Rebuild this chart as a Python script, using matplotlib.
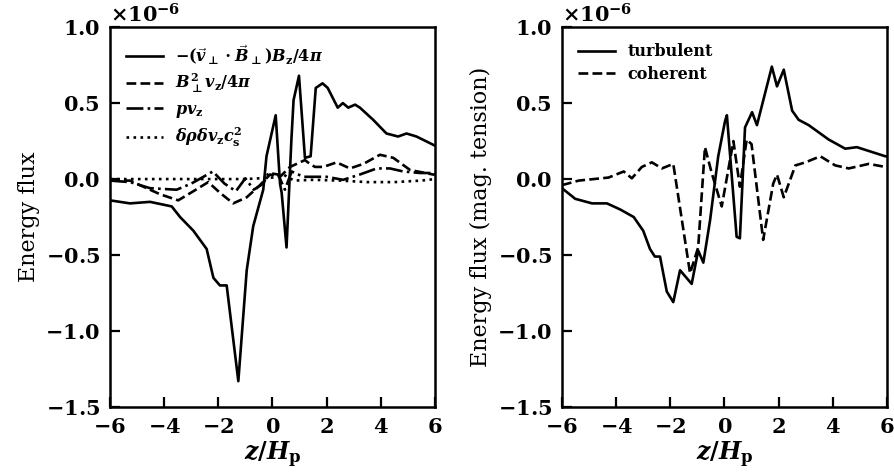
import numpy as np
import matplotlib
matplotlib.use("Agg")
import matplotlib.pyplot as plt

plt.rcParams["font.family"] = "DejaVu Serif"
plt.rcParams["font.weight"] = "bold"
plt.rcParams["mathtext.fontset"] = "custom"
plt.rcParams["mathtext.rm"] = "DejaVu Serif:bold"
plt.rcParams["mathtext.it"] = "DejaVu Serif:italic:bold"
plt.rcParams["mathtext.bf"] = "DejaVu Serif:bold"
plt.rcParams["mathtext.sf"] = "DejaVu Sans:bold"
plt.rcParams["axes.formatter.use_mathtext"] = True

# flux profiles, in units of 1e-6
z_tens = [-6.0, -5.26, -4.52, -3.72, -3.41, -2.92, -2.43, -2.18, -1.94, -1.69, -1.26,
          -0.95, -0.71, -0.34, -0.22, 0.12, 0.28, 0.34, 0.52, 0.7, 0.78, 0.98, 1.2, 1.41,
          1.6, 1.85, 2.04, 2.41, 2.6, 2.8, 3.05, 3.23, 3.72, 4.21, 4.64, 4.95, 5.32, 6.0]
f_tens = [-0.14, -0.16, -0.15, -0.18, -0.25, -0.34, -0.46, -0.65, -0.70, -0.70, -1.33,
          -0.60, -0.31, -0.07, 0.15, 0.42, -0.03, -0.09, -0.45, 0.26, 0.52, 0.68, 0.14, 0.15,
          0.60, 0.63, 0.60, 0.47, 0.50, 0.47, 0.49, 0.47, 0.39, 0.30, 0.28, 0.30, 0.28, 0.22]

z_press = [-6.0, -5.26, -4.77, -4.15, -3.48, -2.92, -2.37, -1.94, -1.45, -0.95, -0.46,
           -0.09, 0.28, 0.65, 1.2, 1.38, 1.57, 1.88, 2.37, 2.86, 3.36, 3.97, 4.46, 5.08, 5.93, 6.0]
f_press = [-0.01, -0.01, -0.05, -0.10, -0.14, -0.08, -0.02, -0.09, -0.16, -0.12, -0.04,
           0.03, 0.015, 0.08, 0.125, 0.10, 0.08, 0.08, 0.11, 0.07, 0.10, 0.16, 0.14, 0.06, 0.03, 0.03]

z_gas = [-6.0, -5.26, -4.52, -3.54, -3.0, -2.2, -1.77, -1.35, -1.0, -0.69, -0.34, -0.15,
         0.21, 0.46, 0.71, 1.14, 2.0, 2.61, 3.23, 3.85, 4.34, 4.83, 5.45, 6.0]
f_gas = [-0.01, -0.02, -0.06, -0.07, -0.03, 0.05, -0.03, -0.08, 0.005, -0.07, -0.03, 0.04,
         0.03, -0.07, 0.05, 0.015, 0.015, -0.005, 0.03, 0.07, 0.07, 0.05, 0.04, 0.04]

z_ac = [-6.0, -4.0, -2.0, -1.0, 0.0, 0.4, 0.8, 1.5, 2.5, 3.5, 4.5, 5.5, 6.0]
f_ac = [0.0, 0.0, 0.0, 0.0, 0.01, 0.03, -0.01, -0.005, -0.01, -0.02, -0.02, -0.01, 0.0]

z_turb = [-6.0, -5.51, -4.89, -4.34, -3.85, -3.35, -3.0, -2.75, -2.57, -2.38, -2.13, -1.89,
          -1.64, -1.21, -0.97, -0.78, -0.53, -0.23, 0.02, 0.09, 0.45, 0.57, 0.76, 1.02, 1.2,
          1.75, 1.94, 2.19, 2.5, 2.74, 3.11, 3.85, 4.46, 4.89, 5.94, 6.0]
f_turb = [-0.06, -0.13, -0.16, -0.16, -0.20, -0.25, -0.34, -0.46, -0.51, -0.51, -0.74, -0.81,
          -0.60, -0.69, -0.47, -0.55, -0.27, 0.15, 0.38, 0.42, -0.38, -0.39, 0.34, 0.44, 0.355,
          0.74, 0.61, 0.72, 0.45, 0.39, 0.355, 0.26, 0.20, 0.21, 0.15, 0.15]

z_coh = [-6.0, -5.38, -4.28, -3.72, -3.42, -3.05, -2.68, -2.31, -1.89, -1.27, -0.97, -0.72,
         -0.47, -0.1, 0.33, 0.57, 0.82, 1.0, 1.43, 1.8, 1.94, 2.19, 2.62, 2.99, 3.54, 4.09,
         4.59, 5.33, 5.94, 6.0]
f_coh = [-0.04, -0.01, 0.01, 0.05, 0.005, 0.08, 0.11, 0.07, 0.10, -0.62, -0.45, 0.21,
         0.04, -0.18, 0.25, -0.05, 0.26, 0.23, -0.40, -0.03, 0.03, -0.12, 0.09, 0.11, 0.15, 0.09,
         0.07, 0.10, 0.08, 0.08]

scale = 1e-6
lw = 1.9

fig = plt.figure(figsize=(8.94, 4.76), dpi=100)
ax1 = fig.add_axes([0.123, 0.145, 0.3635, 0.798])
ax2 = fig.add_axes([0.6286, 0.145, 0.3635, 0.798])

ax1.plot(z_tens, np.array(f_tens) * scale, "k-", lw=lw,
         label=r"$-(\vec{v}_{\bot}\cdot\vec{B}_{\bot})B_\mathrm{z}/4\pi$")
ax1.plot(z_press, np.array(f_press) * scale, "k--", lw=lw,
         label=r"$B_{\bot}^2 v_\mathrm{z}/4\pi$")
ax1.plot(z_gas, np.array(f_gas) * scale, "k-.", lw=lw, label=r"$pv_\mathrm{z}$")
ax1.plot(z_ac, np.array(f_ac) * scale, "k:", lw=lw,
         label=r"$\delta\rho\delta v_\mathrm{z}c_\mathrm{s}^2$")

ax2.plot(z_turb, np.array(f_turb) * scale, "k-", lw=lw, label="turbulent")
ax2.plot(z_coh, np.array(f_coh) * scale, "k--", lw=lw, label="coherent")

for ax in (ax1, ax2):
    ax.set_xlim(-6, 6)
    ax.set_ylim(-1.5e-6, 1.0e-6)
    ax.set_xticks([-6, -4, -2, 0, 2, 4, 6])
    ax.set_yticks(np.array([-1.5, -1.0, -0.5, 0.0, 0.5, 1.0]) * scale)
    ax.tick_params(direction="in", length=7, width=1.6, labelsize=15, pad=7,
                   top=False, right=False)
    for s in ax.spines.values():
        s.set_linewidth(1.8)
    ax.yaxis.get_offset_text().set_fontsize(15)
    ax.set_xlabel(r"$z/H_\mathrm{p}$", fontsize=17, labelpad=2)
    ax.legend(loc="upper left", frameon=False, fontsize=11.5, handlelength=2.3,
              labelspacing=0.35, borderaxespad=0.6)

ax1.set_ylabel("Energy flux", fontsize=16, labelpad=4)
ax2.set_ylabel("Energy flux (mag. tension)", fontsize=16, labelpad=4)

fig.savefig("out.png", dpi=100)
